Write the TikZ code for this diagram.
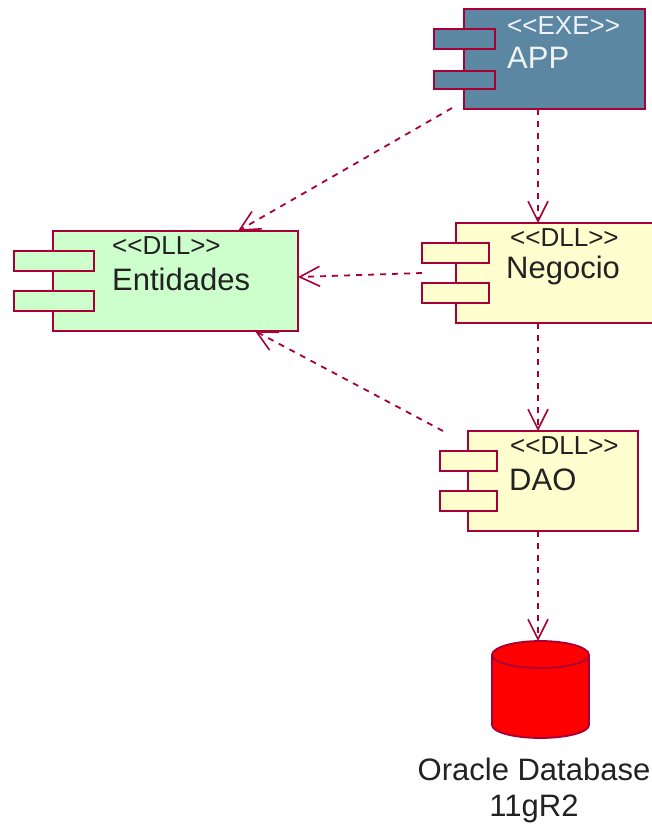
\documentclass[tikz,border=0pt]{standalone}
\usepackage{fontspec}
\setmainfont{Liberation Sans}
\usetikzlibrary{arrows.meta}
\definecolor{umlline}{HTML}{A80036}
\definecolor{umlyellow}{HTML}{FEFECE}
\definecolor{umlgreen}{HTML}{CCFFCC}
\definecolor{umlblue}{HTML}{5B87A3}
\definecolor{inktext}{HTML}{222222}
\newcommand{\ltlt}{{<}\kern0pt{<}}
\newcommand{\gtgt}{{>}\kern0pt{>}}
\tikzset{
  x=1pt,y=-1pt,
  compbody/.style={draw=umlline,line width=2.4pt,rectangle,inner sep=0pt,outer sep=0pt},
  compport/.style={draw=umlline,line width=2.4pt,rectangle,inner sep=0pt,outer sep=0pt},
  stereo/.style={anchor=base west,inner sep=0pt,text=inktext,font=\fontsize{26}{26}\selectfont},
  title/.style={anchor=base west,inner sep=0pt,text=inktext,font=\fontsize{31}{31}\selectfont},
  dep/.style={draw=umlline,line width=1.8pt,dash pattern=on 6pt off 6pt,
    -{Straight Barb[length=20pt,width=20pt,line width=1.6pt]}},
  dbnode/.style={rectangle,minimum width=97pt,minimum height=97pt,inner sep=0pt,outer sep=0pt},
  dbline/.style={draw=umlline,line width=1.8pt},
  dbtext/.style={inner sep=0pt,align=center,text=inktext,font=\fontsize{31}{36}\selectfont}
}
\begin{document}
\begin{tikzpicture}
\useasboundingbox (0,0) rectangle (652,828);
\clip (0,0) rectangle (652,828);
\fill[white] (0,0) rectangle (652,828);
% APP
\node[compbody,fill=umlblue,minimum width=181pt,minimum height=100pt] (app) at (554.5,59) {};
\node[compport,fill=umlblue,minimum width=61pt,minimum height=20pt] (appa) at (464.5,39) {};
\node[compport,fill=umlblue,minimum width=61pt,minimum height=18pt] (appb) at (464.5,80) {};
\node[stereo,text=white!90!umlblue] (appst) at (507,34) {\ltlt EXE\gtgt};
\node[title,text=white!90!umlblue] (appt) at (507,68) {APP};
% Negocio
\node[compbody,fill=umlyellow,minimum width=210pt,minimum height=100pt] (neg) at (561,273) {};
\node[compport,fill=umlyellow,minimum width=67pt,minimum height=20pt] (nega) at (455.5,253) {};
\node[compport,fill=umlyellow,minimum width=67pt,minimum height=20pt] (negb) at (455.5,293) {};
\node[stereo] (negst) at (510,246) {\ltlt DLL\gtgt};
\node[title] (negt) at (506,278) {Negocio};
% Entidades
\node[compbody,fill=umlgreen,minimum width=245pt,minimum height=100pt] (ent) at (175.5,281) {};
\node[compport,fill=umlgreen,minimum width=80pt,minimum height=20pt] (enta) at (54,261) {};
\node[compport,fill=umlgreen,minimum width=80pt,minimum height=20pt] (entb) at (54,301) {};
\node[stereo] (entst) at (112,254) {\ltlt DLL\gtgt};
\node[title] (entt) at (112,290) {Entidades};
% DAO
\node[compbody,fill=umlyellow,minimum width=170pt,minimum height=100pt] (dao) at (553,481) {};
\node[compport,fill=umlyellow,minimum width=57pt,minimum height=20pt] (daoa) at (468.5,461) {};
\node[compport,fill=umlyellow,minimum width=57pt,minimum height=20pt] (daob) at (468.5,501) {};
\node[stereo] (daost) at (510,454) {\ltlt DLL\gtgt};
\node[title] (daot) at (509,490) {DAO};
% Database
\node[dbnode] (db) at (540.5,689.5) {};
\draw[dbline,fill=red] ([yshift=-14pt]db.north west)
  arc[start angle=180,end angle=0,x radius=48.5pt,y radius=14pt]
  -- ([yshift=13pt]db.south east)
  arc[start angle=0,end angle=-180,x radius=48.5pt,y radius=13pt]
  -- cycle;
\draw[dbline] ([yshift=-14pt]db.north west)
  arc[start angle=180,end angle=360,x radius=48.5pt,y radius=13pt];
\node[dbtext] (dbt) at (534,790) {Oracle Database\\11gR2};
% Connectors
\draw[dep] ([xshift=-16.5pt]app.south) -- ([xshift=-23pt]neg.north);
\draw[dep] ([xshift=-102.5pt,yshift=1pt]app.south) -- ([xshift=62.5pt]ent.north);
\draw[dep] ([yshift=-10pt]nega.south west) -- ([yshift=4pt]ent.east);
\draw[dep] ([xshift=-23pt]neg.south) -- ([xshift=-15pt]dao.north);
\draw[dep] ([xshift=-25pt]dao.north west) -- ([xshift=79.5pt]ent.south);
\draw[dep] ([xshift=-15pt]dao.south) -- ([xshift=-2.5pt]db.north);
\end{tikzpicture}
\end{document}
